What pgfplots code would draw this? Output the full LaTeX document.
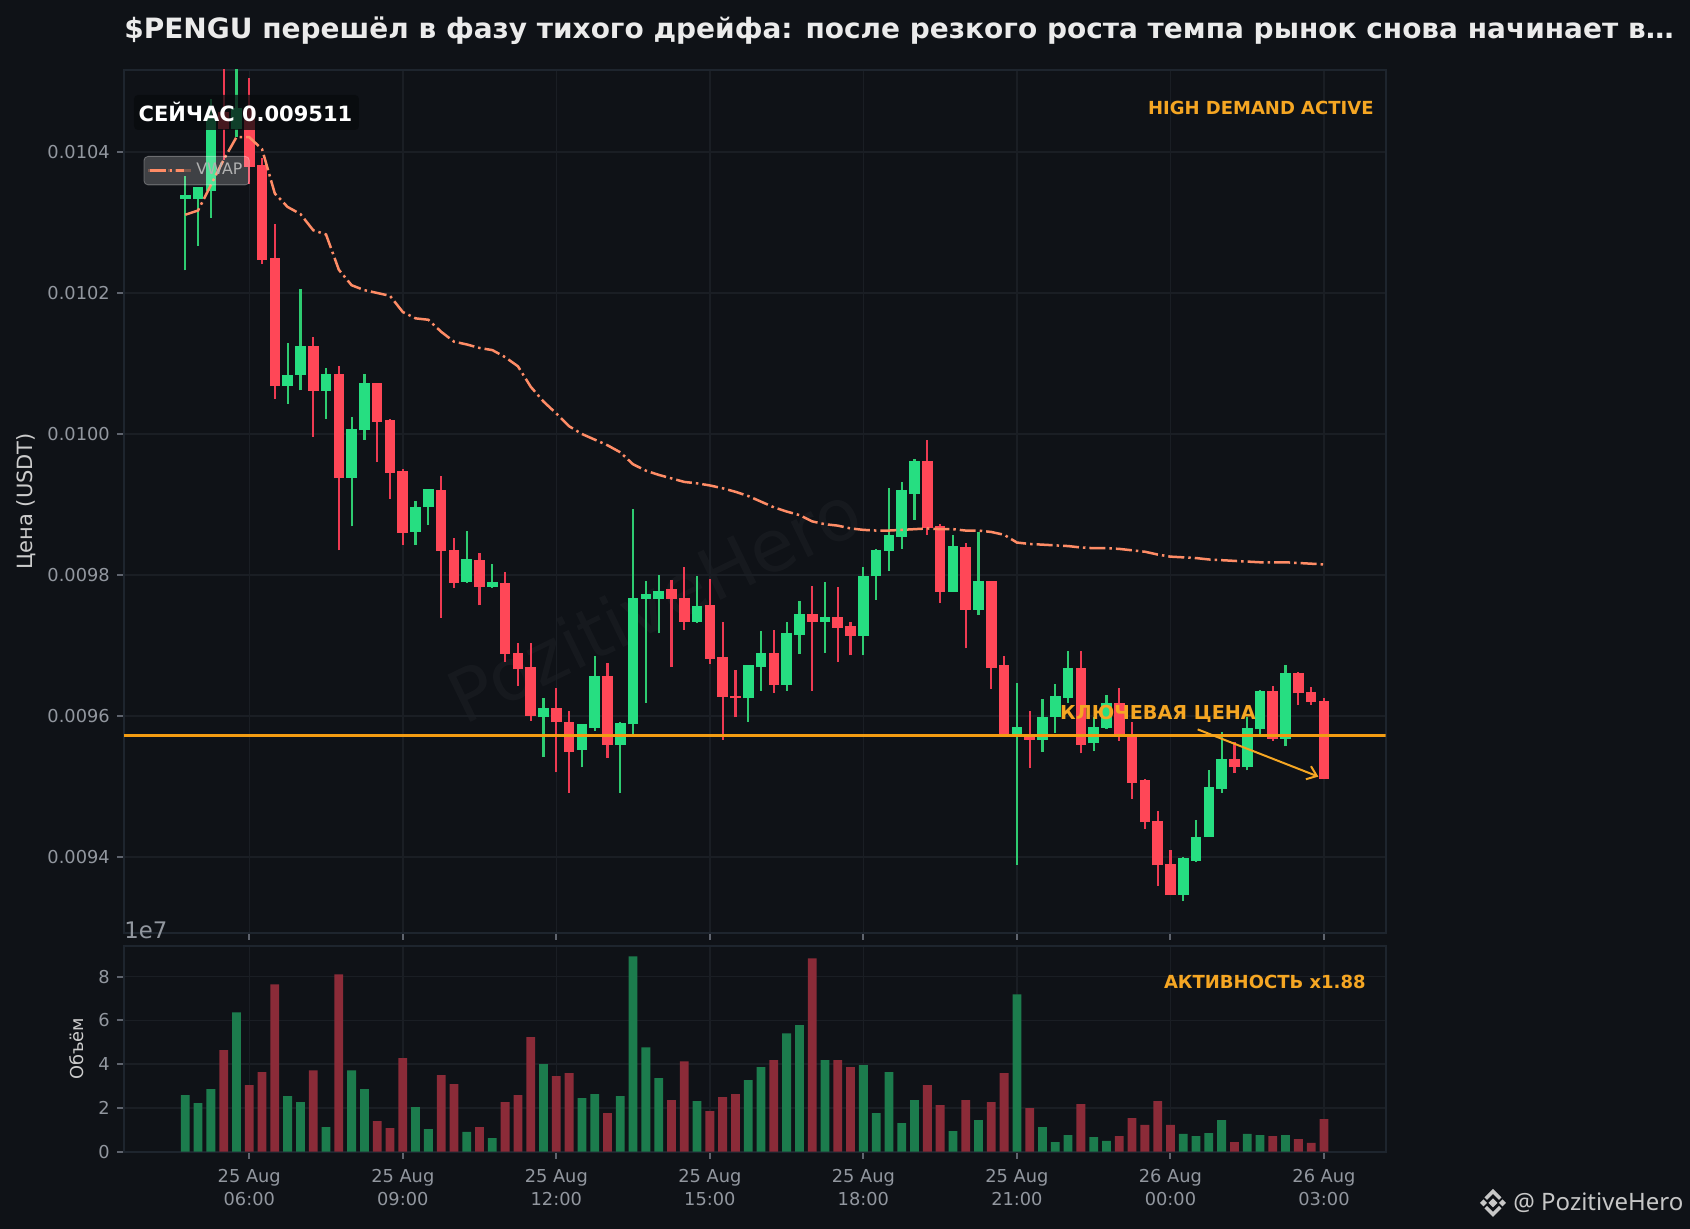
\documentclass[border=0pt]{standalone}
\usepackage{fontspec}
\setmainfont{DejaVu Sans}
\newfontfamily\wmfont{Noto Sans}
\usepackage{pgfplots}
\usepackage{pgfplotstable}
\pgfplotsset{compat=1.18}
\usetikzlibrary{arrows.meta}
\definecolor{bgc}{HTML}{0F1217}
\definecolor{spine}{HTML}{1E252E}
\definecolor{gridc}{HTML}{1A1E24}
\definecolor{tickc}{HTML}{5F646E}
\definecolor{labc}{HTML}{92979F}
\definecolor{upc}{HTML}{26DE81}
\definecolor{dnc}{HTML}{FF4757}
\definecolor{upw}{HTML}{2ECC71}
\definecolor{dnw}{HTML}{EE3A52}
\definecolor{upv}{HTML}{1C7C4D}
\definecolor{dnv}{HTML}{8B2B38}
\definecolor{vwapc}{HTML}{FF8C66}
\definecolor{keyc}{HTML}{F39C12}
\definecolor{annc}{HTML}{F5A623}
\pgfplotstableread{
i o h l c v
0 0.010333 0.010366 0.010232 0.010339 2.58
1 0.010334 0.010350 0.010267 0.010350 2.22
2 0.010345 0.010475 0.010307 0.010450 2.86
4 0.010433 0.010559 0.010421 0.010462 6.37
8 0.010068 0.010129 0.010043 0.010084 2.54
9 0.010084 0.010205 0.010062 0.010125 2.26
11 0.010061 0.010093 0.010021 0.010085 1.12
13 0.009938 0.010024 0.009869 0.010007 3.72
14 0.010005 0.010085 0.009992 0.010072 2.86
18 0.009861 0.009905 0.009843 0.009897 2.04
19 0.009896 0.009922 0.009871 0.009922 1.03
22 0.009790 0.009863 0.009789 0.009822 0.90
24 0.009783 0.009816 0.009782 0.009790 0.62
28 0.009598 0.009625 0.009542 0.009612 4.00
31 0.009552 0.009589 0.009527 0.009588 2.45
32 0.009583 0.009685 0.009579 0.009656 2.63
34 0.009559 0.009591 0.009491 0.009590 2.54
35 0.009588 0.009894 0.009573 0.009767 8.92
36 0.009766 0.009791 0.009619 0.009773 4.77
37 0.009766 0.009800 0.009717 0.009777 3.36
40 0.009734 0.009798 0.009732 0.009756 2.31
44 0.009625 0.009672 0.009592 0.009672 3.27
45 0.009669 0.009720 0.009636 0.009690 3.86
47 0.009644 0.009734 0.009636 0.009717 5.41
48 0.009715 0.009763 0.009688 0.009744 5.78
50 0.009734 0.009790 0.009690 0.009740 4.18
53 0.009714 0.009811 0.009686 0.009798 3.95
54 0.009798 0.009837 0.009765 0.009836 1.76
55 0.009834 0.009923 0.009806 0.009856 3.63
56 0.009854 0.009932 0.009837 0.009920 1.31
57 0.009915 0.009964 0.009878 0.009961 2.36
60 0.009776 0.009856 0.009776 0.009841 0.94
62 0.009751 0.009861 0.009743 0.009792 1.44
65 0.009575 0.009647 0.009389 0.009584 7.19
67 0.009566 0.009624 0.009549 0.009598 1.12
68 0.009599 0.009645 0.009576 0.009628 0.44
69 0.009626 0.009692 0.009619 0.009668 0.76
71 0.009561 0.009599 0.009551 0.009585 0.67
72 0.009583 0.009630 0.009582 0.009619 0.49
78 0.009346 0.009400 0.009338 0.009398 0.81
79 0.009395 0.009452 0.009393 0.009429 0.71
80 0.009429 0.009523 0.009429 0.009499 0.85
81 0.009497 0.009577 0.009491 0.009539 1.44
83 0.009527 0.009598 0.009523 0.009583 0.81
84 0.009581 0.009637 0.009573 0.009636 0.76
86 0.009568 0.009672 0.009557 0.009661 0.76
}\greentab
\pgfplotstableread{
i o h l c v
3 0.010457 0.010545 0.010389 0.010433 4.64
5 0.010462 0.010505 0.010355 0.010379 3.04
6 0.010381 0.010392 0.010241 0.010247 3.63
7 0.010249 0.010298 0.010050 0.010068 7.64
10 0.010125 0.010138 0.009996 0.010061 3.72
12 0.010085 0.010096 0.009835 0.009937 8.10
15 0.010072 0.010072 0.009960 0.010017 1.40
16 0.010020 0.010021 0.009908 0.009945 1.08
17 0.009948 0.009950 0.009843 0.009860 4.27
20 0.009920 0.009940 0.009739 0.009834 3.50
21 0.009835 0.009853 0.009782 0.009789 3.09
23 0.009821 0.009831 0.009757 0.009783 1.12
25 0.009788 0.009804 0.009677 0.009688 2.26
26 0.009690 0.009704 0.009643 0.009666 2.58
27 0.009669 0.009703 0.009593 0.009600 5.23
29 0.009612 0.009639 0.009520 0.009591 3.45
30 0.009592 0.009607 0.009491 0.009549 3.59
33 0.009656 0.009675 0.009541 0.009559 1.76
38 0.009780 0.009793 0.009670 0.009766 2.36
39 0.009768 0.009811 0.009722 0.009734 4.13
41 0.009757 0.009794 0.009674 0.009681 1.85
42 0.009683 0.009734 0.009566 0.009627 2.49
43 0.009629 0.009665 0.009598 0.009625 2.63
46 0.009690 0.009722 0.009633 0.009644 4.18
49 0.009744 0.009784 0.009636 0.009734 8.83
51 0.009740 0.009783 0.009677 0.009725 4.18
52 0.009727 0.009733 0.009686 0.009714 3.86
58 0.009961 0.009992 0.009857 0.009867 3.04
59 0.009869 0.009873 0.009760 0.009776 2.13
61 0.009839 0.009845 0.009696 0.009751 2.36
63 0.009791 0.009791 0.009638 0.009668 2.26
64 0.009672 0.009685 0.009573 0.009574 3.59
66 0.009573 0.009607 0.009526 0.009566 1.99
70 0.009668 0.009692 0.009547 0.009559 2.17
73 0.009619 0.009639 0.009565 0.009573 0.71
74 0.009575 0.009592 0.009482 0.009505 1.53
75 0.009509 0.009510 0.009440 0.009449 1.22
76 0.009451 0.009465 0.009359 0.009388 2.31
77 0.009390 0.009410 0.009346 0.009346 1.22
82 0.009539 0.009563 0.009519 0.009527 0.44
85 0.009636 0.009642 0.009565 0.009568 0.71
87 0.009661 0.009663 0.009616 0.009632 0.58
88 0.009634 0.009641 0.009616 0.009620 0.40
89 0.009621 0.009625 0.009511 0.009511 1.49
}\redtab
\pgfplotstableread{
i p
0 0.010311
1 0.010317
2 0.010353
3 0.010389
4 0.010421
5 0.010421
6 0.010404
7 0.010341
8 0.010322
9 0.010312
10 0.010289
11 0.010283
12 0.010233
13 0.010211
14 0.010204
15 0.010200
16 0.010196
17 0.010173
18 0.010164
19 0.010162
20 0.010145
21 0.010131
22 0.010127
23 0.010122
24 0.010119
25 0.010109
26 0.010096
27 0.010067
28 0.010046
29 0.010029
30 0.010011
31 0.010000
32 0.009992
33 0.009984
34 0.009974
35 0.009957
36 0.009948
37 0.009942
38 0.009937
39 0.009932
40 0.009930
41 0.009927
42 0.009923
43 0.009918
44 0.009912
45 0.009904
46 0.009896
47 0.009890
48 0.009885
49 0.009876
50 0.009872
51 0.009870
52 0.009866
53 0.009864
54 0.009863
55 0.009863
56 0.009864
57 0.009865
58 0.009866
59 0.009865
60 0.009865
61 0.009863
62 0.009863
63 0.009861
64 0.009857
65 0.009846
66 0.009844
67 0.009843
68 0.009842
69 0.009841
70 0.009839
71 0.009838
72 0.009838
73 0.009837
74 0.009835
75 0.009833
76 0.009829
77 0.009826
78 0.009825
79 0.009824
80 0.009822
81 0.009821
82 0.009820
83 0.009819
84 0.009818
85 0.009818
86 0.009818
87 0.009817
88 0.009816
89 0.009815
}\vwaptab
\pgfplotstableread{
i p
-4.79 0.009572
93.81 0.009572
}\keytab
\newcommand{\tf}{\fontsize{8.9bp}{11.3bp}\selectfont}
\pgfplotsset{
  common/.style={
    scale only axis, width=630.75bp,
    xmin=-4.79, xmax=93.81,
    axis line style={draw=spine, line width=1bp},
    grid=major, major grid style={draw=gridc, line width=0.75bp},
    tick align=outside, tick pos=left, major tick length=3.6bp,
    tick style={draw=tickc, line width=1bp},
    xtick={5,17,29,41,53,65,77,89},
    tick label style={font=\tf, text=labc},
    scaled ticks=false,
  },
  wick/.style={draw=none, mark=none, forget plot,
    error bars/.cd, y dir=plus, y explicit, error mark=none,
    error bar style={draw=#1, line width=1.1bp}},
  body/.style={draw=none, mark=none, forget plot,
    error bars/.cd, y dir=plus, y explicit, error mark=none,
    error bar style={draw=#1, line width=5.3bp}},
}
\begin{document}
\begin{tikzpicture}
\useasboundingbox (0,0) rectangle (845bp,614.5bp);
\fill[bgc] (0,0) rectangle (845bp,614.5bp);
\begin{scope}[x=0.5bp,y=-0.5bp,shift={(0bp,614.5bp)}]
\node[rotate=26,text=white,opacity=0.03,font=\fontsize{36bp}{40bp}\selectfont] at (654,603) {PozitiveHero};
\end{scope}
\begin{axis}[common, at={(62bp,148.15bp)}, anchor=south west, height=431.35bp,
  ymin=0.0092926, ymax=0.0105163,
  ytick={0.0094,0.0096,0.0098,0.0100,0.0102,0.0104},
  yticklabels={0.0094,0.0096,0.0098,0.0100,0.0102,0.0104},
  xticklabels={},
  title={\textbf{\$PENGU перешёл в фазу тихого дрейфа: после резкого роста темпа рынок снова начинает в…}},
  title style={at={(0,1)}, anchor=base west, yshift=9.65bp, inner sep=0pt, text=white!92!black, font=\fontsize{13.99bp}{16bp}\selectfont},
  ylabel={Цена (USDT)},
  y label style={at={(axis description cs:-0.0777,0.5)}, anchor=center, text=white!80!black, font=\fontsize{10.5bp}{12bp}\selectfont},
  legend style={at={(0.0155,0.9003)}, anchor=north west, fill=white, fill opacity=0.2, draw=white, draw opacity=0.3, text opacity=1, rounded corners=2bp, font=\fontsize{7.9bp}{9bp}\selectfont, text=white!70!black, inner xsep=1.5bp, inner ysep=1.5bp},
  legend image code/.code={\draw[vwapc, opacity=1, line width=1.25bp, dash pattern=on 8bp off 2bp on 1.25bp off 2bp] (0.8bp,0bp) -- (18bp,0bp); \path (0bp,0bp) -- (21.5bp,0bp);},
  legend cell align=left,
]
\addplot[wick=upw] table[x=i, y=l, y error plus expr=\thisrow{h}-\thisrow{l}] {\greentab};
\addplot[wick=dnw] table[x=i, y=l, y error plus expr=\thisrow{h}-\thisrow{l}] {\redtab};
\addplot[body=upc] table[x=i, y=o, y error plus expr=\thisrow{c}-\thisrow{o}] {\greentab};
\addplot[body=dnc] table[x=i, y=c, y error plus expr=\thisrow{o}-\thisrow{c}] {\redtab};
\addplot[forget plot, keyc, line width=1.75bp] table[x=i, y=p] {\keytab};
\addplot[vwapc, line width=1.25bp, dash pattern=on 8bp off 2bp on 1.25bp off 2bp] table[x=i, y=p] {\vwaptab};
\addlegendentry{VWAP}
\draw[annc, line width=1bp, -{Straight Barb[length=4.5bp,width=7bp]}] (axis cs:79.13,0.009581) -- (axis cs:88.56,0.009514);
\end{axis}
\begin{axis}[common, at={(62bp,38.65bp)}, anchor=south west, height=103bp,
  ymin=0, ymax=9.41,
  ytick={0,2,4,6,8}, yticklabels={0,2,4,6,8},
  xticklabels={25 Aug\\06:00,25 Aug\\09:00,25 Aug\\12:00,25 Aug\\15:00,25 Aug\\18:00,25 Aug\\21:00,26 Aug\\00:00,26 Aug\\03:00},
  xticklabel style={align=center, yshift=-1.7bp},
  ylabel={Объём},
  y label style={at={(axis description cs:-0.03726,0.5)}, anchor=center, text=white!80!black, font=\fontsize{8.9bp}{10bp}\selectfont},
  ybar, bar width=4.4bp, bar shift=0pt,
]
\addplot[fill=upv, draw=none] table[x=i, y=v] {\greentab};
\addplot[fill=dnv, draw=none] table[x=i, y=v] {\redtab};
\end{axis}
\begin{scope}[x=0.5bp,y=-0.5bp,shift={(0bp,614.5bp)}]
\fill[bgc!55!black, opacity=0.75, rounded corners=2bp] (134,95) rectangle (359,130);
\node[anchor=center, text=white, font=\fontsize{10.5bp}{12bp}\selectfont\bfseries, inner sep=0pt] at (245.5,112) {СЕЙЧАС 0.009511};
\node[anchor=east, text=annc, font=\fontsize{9bp}{10bp}\selectfont\bfseries, inner sep=0pt] at (1374,108) {HIGH DEMAND ACTIVE};
\node[anchor=east, text=annc, font=\fontsize{9bp}{10bp}\selectfont\bfseries, inner sep=0pt] at (1366,982) {АКТИВНОСТЬ x1.88};
\node[anchor=center, text=annc, font=\fontsize{9.6bp}{11bp}\selectfont\bfseries, inner sep=0pt] at (1158,713.5) {КЛЮЧЕВАЯ ЦЕНА};
\node[anchor=west, text=white!78!black, font=\wmfont\fontsize{12bp}{14bp}\selectfont, inner sep=0pt] at (1513,1203) {@ PozitiveHero};
\begin{scope}[shift={(1493,1203)}]
\fill[white!78!black] (0,-4.5) -- (4.5,0) -- (0,4.5) -- (-4.5,0) -- cycle;
\fill[white!78!black] (-13,0) -- (-9.5,-3.5) -- (-6,0) -- (-9.5,3.5) -- cycle;
\fill[white!78!black] (13,0) -- (9.5,-3.5) -- (6,0) -- (9.5,3.5) -- cycle;
\fill[white!78!black] (0,-14) -- (8.5,-5.5) -- (6,-3) -- (0,-9) -- (-6,-3) -- (-8.5,-5.5) -- cycle;
\fill[white!78!black] (0,14) -- (8.5,5.5) -- (6,3) -- (0,9) -- (-6,3) -- (-8.5,5.5) -- cycle;
\end{scope}
\node[anchor=base west, text=labc, font=\fontsize{11.4bp}{13bp}\selectfont, inner sep=0pt] at (124,939) {1e7};
\end{scope}
\end{tikzpicture}
\end{document}
